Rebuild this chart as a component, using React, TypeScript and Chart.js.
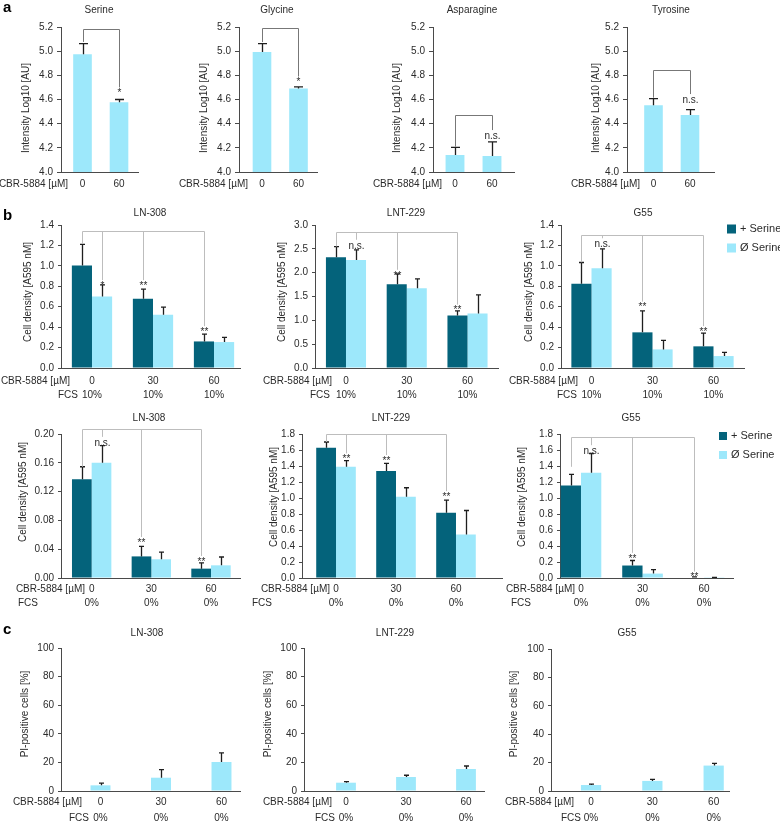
import React, { useEffect, useRef } from "react";
import { Chart, registerables } from "chart.js";

Chart.register(...registerables);

const FONT = "'Liberation Sans', Arial, Helvetica, sans-serif";
Chart.defaults.font.family = FONT;

const DARK = "#04637b";
const LIGHT = "#9de8fb";
const TEXT = "#2b2b2b";
const AXIS = "#4a4a4a";

// ---------- Panel a ----------
const aDoseLabels = ["0", "60"];
const serineMean = [4.974, 4.578];
const serineErr = [0.088, 0.022];
const glycineMean = [4.994, 4.691];
const glycineErr = [0.068, 0.014];
const asparagineMean = [4.14, 4.132];
const asparagineErr = [0.064, 0.118];
const tyrosineMean = [4.553, 4.471];
const tyrosineErr = [0.055, 0.046];

const serineBracketTop = 5.186;
const serineBracketEnds = [5.076, 4.7];
const serineMarks = ["", "*"];
const glycineBracketTop = 5.195;
const glycineBracketEnds = [5.075, 4.79];
const glycineMarks = ["", "*"];
const asparagineBracketTop = 4.468;
const asparagineBracketEnds = [4.21, 4.347];
const asparagineMarks = ["", "n.s."];
const tyrosineBracketTop = 4.848;
const tyrosineBracketEnds = [4.615, 4.645];
const tyrosineMarks = ["", "n.s."];

// ---------- Panel b ----------
const doseLabels = ["0", "30", "60"];
const fcs10Labels = ["10%", "10%", "10%"];
const fcs0Labels = ["0%", "0%", "0%"];
const seriesNames = ["+ Serine", "Ø Serine"];

const ln308Fcs10Plus = [1.003, 0.677, 0.26];
const ln308Fcs10PlusErr = [0.207, 0.095, 0.072];
const ln308Fcs10Minus = [0.7, 0.521, 0.254];
const ln308Fcs10MinusErr = [0.114, 0.075, 0.046];
const ln308Fcs10BracketTop = 1.342;
const ln308Fcs10BracketEnds = [1.215, 0.86, 0.86, 0.41];
const ln308Fcs10Marks = ["", "*", "**", "**"];

const lnt229Fcs10Plus = [2.324, 1.758, 1.103];
const lnt229Fcs10PlusErr = [0.223, 0.217, 0.097];
const lnt229Fcs10Minus = [2.268, 1.675, 1.144];
const lnt229Fcs10MinusErr = [0.209, 0.195, 0.391];
const lnt229Fcs10BracketTop = 2.86;
const lnt229Fcs10BracketEnds = [2.55, 2.69, 2.06, 1.33];
const lnt229Fcs10Marks = ["", "n.s.", "**", "**"];

const g55Fcs10Plus = [0.824, 0.349, 0.212];
const g55Fcs10PlusErr = [0.209, 0.211, 0.13];
const g55Fcs10Minus = [0.977, 0.182, 0.117];
const g55Fcs10MinusErr = [0.189, 0.088, 0.036];
const g55Fcs10BracketTop = 1.303;
const g55Fcs10BracketEnds = [1.035, 1.27, 0.65, 0.41];
const g55Fcs10Marks = ["", "n.s.", "**", "**"];

const ln308Fcs0Plus = [0.137, 0.03, 0.013];
const ln308Fcs0PlusErr = [0.0175, 0.014, 0.008];
const ln308Fcs0Minus = [0.16, 0.026, 0.0176];
const ln308Fcs0MinusErr = [0.0238, 0.01, 0.0116];
const ln308Fcs0BracketTop = 0.2065;
const ln308Fcs0BracketEnds = [0.1545, 0.196, 0.057, 0.0306];
const ln308Fcs0Marks = ["", "n.s.", "**", "**"];

const lnt229Fcs0Plus = [1.629, 1.337, 0.815];
const lnt229Fcs0PlusErr = [0.071, 0.096, 0.158];
const lnt229Fcs0Minus = [1.39, 1.015, 0.543];
const lnt229Fcs0MinusErr = [0.076, 0.113, 0.301];
const lnt229Fcs0BracketTop = 1.796;
const lnt229Fcs0BracketEnds = [1.7, 1.558, 1.537, 1.086];
const lnt229Fcs0Marks = ["", "**", "**", "**"];

const g55Fcs0Plus = [1.157, 0.156, 0.006];
const g55Fcs0PlusErr = [0.138, 0.063, 0.008];
const g55Fcs0Minus = [1.316, 0.055, 0.003];
const g55Fcs0MinusErr = [0.24, 0.05, 0.005];
const g55Fcs0BracketTop = 1.766;
const g55Fcs0BracketEnds = [1.39, 1.66, 0.315, 0.08];
const g55Fcs0Marks = ["", "n.s.", "**", "**"];

// comparisons: [datasetIndex, categoryIndex]
const bTargets = [[0, 0], [1, 0], [0, 1], [0, 2]];
const aTargets = [[0, 0], [0, 1]];

// ---------- Panel c ----------
const ln308Pi = [3.96, 9.3, 20.3];
const ln308PiErr = [1.6, 5.6, 6.3];
const lnt229Pi = [5.8, 9.8, 15.4];
const lnt229PiErr = [0.7, 1.2, 2.1];
const g55Pi = [4.2, 7.1, 17.9];
const g55PiErr = [0.7, 1.1, 1.6];

type Series = { label: string; values: number[]; errors: number[]; color: string };
type Bracket = { top: number; targets: number[][]; ends: number[]; marks: string[] };
type Spec = {
  key: string;
  title: string; titleX: number; titleY: number;
  yTitle: string; yTitleX: number; yTitleY: number;
  plot: number[];
  xMin: number; xMax: number;
  yMin: number; yMax: number; step: number; dec: number;
  series: Series[]; catPct: number;
  doses: string[]; cbrRight: number; rowY: number;
  fcs?: string[]; fcsX?: number; fcsAlign?: CanvasTextAlign; fcsY?: number;
  bracket?: Bracket; bracketColor?: string;
  cap: number; tickLen: number;
  legend?: number[]; legendBox?: number;
  letter?: [string, number, number];
};

const W = 780;
const H = 822;

const aCommon = {
  yTitle: "Intensity Log10 [AU]", yTitleY: 108, titleY: 10,
  yMin: 4.0, yMax: 5.2, step: 0.2, dec: 1, catPct: 0.51,
  doses: aDoseLabels, rowY: 184, cap: 9, tickLen: 4, bracketColor: "#777777",
};
const bTopCommon = {
  yTitle: "Cell density [A595 nM]", yTitleY: 292, titleY: 213, catPct: 0.66,
  doses: doseLabels, rowY: 381, fcs: fcs10Labels, fcsY: 395, fcsAlign: "right" as CanvasTextAlign,
  cap: 5, tickLen: 3, bracketColor: "#bdbdbd",
};
const bBotCommon = {
  yTitle: "Cell density [A595 nM]", titleY: 418, catPct: 0.66,
  doses: doseLabels, rowY: 589, fcs: fcs0Labels, fcsY: 603, fcsAlign: "left" as CanvasTextAlign,
  cap: 5, tickLen: 3, bracketColor: "#bdbdbd",
};
const cCommon = {
  yTitle: "PI-positive cells [%]", yTitleY: 714, titleY: 633, catPct: 0.33,
  yMin: 0, yMax: 100, step: 20, dec: 0,
  doses: doseLabels, rowY: 802, fcs: fcs0Labels, fcsY: 818, fcsAlign: "right" as CanvasTextAlign,
  cap: 5, tickLen: 3,
};

const pair = (p: number[], pe: number[], m: number[], me: number[]): Series[] => [
  { label: seriesNames[0], values: p, errors: pe, color: DARK },
  { label: seriesNames[1], values: m, errors: me, color: LIGHT },
];
const single = (label: string, v: number[], e: number[]): Series[] => [
  { label, values: v, errors: e, color: LIGHT },
];

const specs: Spec[] = [
  { ...aCommon, key: "ser", title: "Serine", titleX: 99, yTitleX: 26, plot: [61, 27, 138, 172], xMin: -0.589, xMax: 1.52,
    series: single("Serine", serineMean, serineErr), cbrRight: 68,
    bracket: { top: serineBracketTop, targets: aTargets, ends: serineBracketEnds, marks: serineMarks },
    letter: ["a", 3, 8] },
  { ...aCommon, key: "gly", title: "Glycine", titleX: 277, yTitleX: 204, plot: [239, 27, 317, 172], xMin: -0.63, xMax: 1.507,
    series: single("Glycine", glycineMean, glycineErr), cbrRight: 248,
    bracket: { top: glycineBracketTop, targets: aTargets, ends: glycineBracketEnds, marks: glycineMarks } },
  { ...aCommon, key: "asn", title: "Asparagine", titleX: 472, yTitleX: 397, plot: [433, 27, 514, 172], xMin: -0.595, xMax: 1.595,
    series: single("Asparagine", asparagineMean, asparagineErr), cbrRight: 442,
    bracket: { top: asparagineBracketTop, targets: aTargets, ends: asparagineBracketEnds, marks: asparagineMarks } },
  { ...aCommon, key: "tyr", title: "Tyrosine", titleX: 671, yTitleX: 596, plot: [627, 27, 714, 172], xMin: -0.726, xMax: 1.658,
    series: single("Tyrosine", tyrosineMean, tyrosineErr), cbrRight: 640,
    bracket: { top: tyrosineBracketTop, targets: aTargets, ends: tyrosineBracketEnds, marks: tyrosineMarks } },

  { ...bTopCommon, key: "b1", title: "LN-308", titleX: 150, yTitleX: 28.5, plot: [61, 225, 240, 368], xMin: -0.508, xMax: 2.426,
    yMin: 0, yMax: 1.4, step: 0.2, dec: 1,
    series: pair(ln308Fcs10Plus, ln308Fcs10PlusErr, ln308Fcs10Minus, ln308Fcs10MinusErr), cbrRight: 70, fcsX: 78,
    bracket: { top: ln308Fcs10BracketTop, targets: bTargets, ends: ln308Fcs10BracketEnds, marks: ln308Fcs10Marks },
    letter: ["b", 3, 216] },
  { ...bTopCommon, key: "b2", title: "LNT-229", titleX: 406, yTitleX: 282, plot: [315, 225, 498, 368], xMin: -0.51, xMax: 2.502,
    yMin: 0, yMax: 3.0, step: 0.5, dec: 1,
    series: pair(lnt229Fcs10Plus, lnt229Fcs10PlusErr, lnt229Fcs10Minus, lnt229Fcs10MinusErr), cbrRight: 332, fcsX: 330,
    bracket: { top: lnt229Fcs10BracketTop, targets: bTargets, ends: lnt229Fcs10BracketEnds, marks: lnt229Fcs10Marks } },
  { ...bTopCommon, key: "b3", title: "G55", titleX: 643, yTitleX: 529, plot: [561, 225, 744, 368], xMin: -0.5, xMax: 2.5,
    yMin: 0, yMax: 1.4, step: 0.2, dec: 1,
    series: pair(g55Fcs10Plus, g55Fcs10PlusErr, g55Fcs10Minus, g55Fcs10MinusErr), cbrRight: 578, fcsX: 577,
    bracket: { top: g55Fcs10BracketTop, targets: bTargets, ends: g55Fcs10BracketEnds, marks: g55Fcs10Marks },
    legend: [727, 229, 248], legendBox: 9 },

  { ...bBotCommon, key: "b4", title: "LN-308", titleX: 149, yTitleX: 23, yTitleY: 492, plot: [61, 434, 240, 578], xMin: -0.514, xMax: 2.486,
    yMin: 0, yMax: 0.2, step: 0.04, dec: 2,
    series: pair(ln308Fcs0Plus, ln308Fcs0PlusErr, ln308Fcs0Minus, ln308Fcs0MinusErr), cbrRight: 85, fcsX: 18,
    bracket: { top: ln308Fcs0BracketTop, targets: bTargets, ends: ln308Fcs0BracketEnds, marks: ln308Fcs0Marks } },
  { ...bBotCommon, key: "b5", title: "LNT-229", titleX: 391, yTitleX: 274, yTitleY: 497, plot: [302, 434, 502, 578], xMin: -0.567, xMax: 2.767,
    yMin: 0, yMax: 1.8, step: 0.2, dec: 1,
    series: pair(lnt229Fcs0Plus, lnt229Fcs0PlusErr, lnt229Fcs0Minus, lnt229Fcs0MinusErr), cbrRight: 330, fcsX: 252,
    bracket: { top: lnt229Fcs0BracketTop, targets: bTargets, ends: lnt229Fcs0BracketEnds, marks: lnt229Fcs0Marks } },
  { ...bBotCommon, key: "b6", title: "G55", titleX: 631, yTitleX: 522, yTitleY: 497, plot: [560, 434, 733, 578], xMin: -0.341, xMax: 2.47,
    yMin: 0, yMax: 1.8, step: 0.2, dec: 1,
    series: pair(g55Fcs0Plus, g55Fcs0PlusErr, g55Fcs0Minus, g55Fcs0MinusErr), cbrRight: 575, fcsX: 511,
    bracket: { top: g55Fcs0BracketTop, targets: bTargets, ends: g55Fcs0BracketEnds, marks: g55Fcs0Marks },
    legend: [719, 436, 455], legendBox: 8 },

  { ...cCommon, key: "c1", title: "LN-308", titleX: 147, yTitleX: 25, plot: [61, 648, 240, 791], xMin: -0.653, xMax: 2.306,
    series: single("PI-positive", ln308Pi, ln308PiErr), cbrRight: 82, fcsX: 89, letter: ["c", 3, 630] },
  { ...cCommon, key: "c2", title: "LNT-229", titleX: 395, yTitleX: 268, plot: [304, 648, 484, 791], xMin: -0.7, xMax: 2.3,
    series: single("PI-positive", lnt229Pi, lnt229PiErr), cbrRight: 332, fcsX: 335 },
  { ...cCommon, key: "c3", title: "G55", titleX: 627, yTitleX: 514, plot: [551, 649, 729, 791], xMin: -0.653, xMax: 2.25,
    series: single("PI-positive", g55Pi, g55PiErr), cbrRight: 574, fcsX: 581 },
];

const Y_WIDTH = 40;

function makePlugin(s: Spec) {
  return {
    id: "annot_" + s.key,
    afterDatasetsDraw(chart: any) {
      const ctx: CanvasRenderingContext2D = chart.ctx;
      const ys = chart.scales.y;
      ctx.save();
      ctx.strokeStyle = "#1e1e1e";
      ctx.lineWidth = 1.3;
      s.series.forEach((ser, di) => {
        const meta = chart.getDatasetMeta(di);
        meta.data.forEach((bar: any, i: number) => {
          const top = ys.getPixelForValue(ser.values[i] + ser.errors[i]);
          const x = Math.round(bar.x) + 0.5;
          ctx.beginPath();
          ctx.moveTo(x, bar.y);
          ctx.lineTo(x, top);
          ctx.moveTo(x - s.cap / 2, top);
          ctx.lineTo(x + s.cap / 2, top);
          ctx.stroke();
        });
      });
      if (s.bracket) {
        const b = s.bracket;
        const yTop = Math.round(ys.getPixelForValue(b.top)) + 0.5;
        const xs = b.targets.map(([d, i]) => Math.round(chart.getDatasetMeta(d).data[i].x) + 0.5);
        ctx.strokeStyle = s.bracketColor || "#999";
        ctx.lineWidth = 1;
        ctx.beginPath();
        ctx.moveTo(Math.min(...xs), yTop);
        ctx.lineTo(Math.max(...xs), yTop);
        xs.forEach((x, k) => {
          ctx.moveTo(x, yTop);
          ctx.lineTo(x, ys.getPixelForValue(b.ends[k]));
        });
        ctx.stroke();
        ctx.fillStyle = TEXT;
        ctx.font = `10px ${FONT}`;
        ctx.textAlign = "center";
        ctx.textBaseline = "top";
        xs.forEach((x, k) => {
          if (b.marks[k]) ctx.fillText(b.marks[k], x, ys.getPixelForValue(b.ends[k]) + 1);
        });
      }
      ctx.restore();
    },
    afterDraw(chart: any) {
      const ctx: CanvasRenderingContext2D = chart.ctx;
      const xs = chart.scales.x;
      ctx.save();
      ctx.fillStyle = TEXT;
      ctx.font = `10px ${FONT}`;
      ctx.textBaseline = "middle";
      ctx.textAlign = "center";
      ctx.fillText(s.title, s.titleX, s.titleY);
      ctx.save();
      ctx.translate(s.yTitleX, s.yTitleY);
      ctx.rotate(-Math.PI / 2);
      ctx.fillText(s.yTitle, 0, 0);
      ctx.restore();
      s.doses.forEach((d, i) => {
        ctx.textAlign = "center";
        ctx.fillText(d, xs.getPixelForValue(i), s.rowY);
      });
      ctx.textAlign = "right";
      ctx.fillText("CBR-5884 [µM]", s.cbrRight, s.rowY);
      if (s.fcs) {
        s.fcs.forEach((f, i) => {
          ctx.textAlign = "center";
          ctx.fillText(f, xs.getPixelForValue(i), s.fcsY!);
        });
        ctx.textAlign = s.fcsAlign || "right";
        ctx.fillText("FCS", s.fcsX!, s.fcsY!);
      }
      if (s.legend) {
        const [lx, ly1, ly2] = s.legend;
        const box = s.legendBox || 9;
        ctx.font = `11px ${FONT}`;
        ctx.textAlign = "left";
        [ly1, ly2].forEach((ly, k) => {
          ctx.fillStyle = chart.data.datasets[k].backgroundColor;
          ctx.fillRect(lx, ly - box / 2, box, box);
          ctx.fillStyle = TEXT;
          ctx.fillText(chart.data.datasets[k].label, lx + box + 4, ly);
        });
      }
      if (s.letter) {
        ctx.font = `bold 15px ${FONT}`;
        ctx.textAlign = "left";
        ctx.fillStyle = "#000";
        ctx.fillText(s.letter[0], s.letter[1], s.letter[2]);
      }
      ctx.restore();
    },
  };
}

function buildConfig(s: Spec): any {
  const [l, t, r, b] = s.plot;
  return {
    type: "bar",
    data: {
      datasets: s.series.map((ser) => ({
        label: ser.label,
        data: ser.values.map((v, i) => ({ x: i, y: v })),
        backgroundColor: ser.color,
        borderWidth: 0,
        categoryPercentage: s.catPct,
        barPercentage: 1,
      })),
    },
    options: {
      responsive: false,
      animation: false,
      events: [],
      devicePixelRatio: 1,
      layout: { padding: { left: l - Y_WIDTH, right: W - r, top: t, bottom: H - b } },
      plugins: { legend: { display: false }, title: { display: false }, tooltip: { enabled: false } },
      scales: {
        x: {
          type: "linear",
          offset: false,
          min: s.xMin,
          max: s.xMax,
          grid: { display: false, offset: false },
          border: { display: true, color: AXIS, width: 1 },
          ticks: { display: false },
          afterBuildTicks: (sc: any) => {
            sc.ticks = [{ value: s.xMin }, { value: s.xMax }];
          },
          afterFit: (sc: any) => {
            sc.height = 0;
          },
        },
        y: {
          type: "linear",
          min: s.yMin,
          max: s.yMax,
          ticks: {
            stepSize: s.step,
            color: TEXT,
            font: { size: 10, family: FONT },
            padding: 4,
            callback: (v: number) => Number(v).toFixed(s.dec),
          },
          grid: { display: true, drawOnChartArea: false, drawTicks: true, tickLength: s.tickLen, color: AXIS, lineWidth: 1 },
          border: { display: true, color: AXIS, width: 1 },
          afterFit: (sc: any) => {
            sc.width = Y_WIDTH;
          },
        },
      },
    },
    plugins: [makePlugin(s)],
  };
}

function Panel({ spec }: { spec: Spec }) {
  const ref = useRef<HTMLCanvasElement>(null);
  useEffect(() => {
    const chart = new Chart(ref.current as HTMLCanvasElement, buildConfig(spec));
    return () => chart.destroy();
  }, [spec]);
  return (
    <canvas
      ref={ref}
      width={W}
      height={H}
      style={{ position: "absolute", left: 0, top: 0, width: W, height: H }}
    />
  );
}

export default function App() {
  return (
    <div style={{ position: "absolute", left: 0, top: 0, width: W, height: H, background: "#ffffff", overflow: "hidden" }}>
      {specs.map((s) => (
        <Panel key={s.key} spec={s} />
      ))}
    </div>
  );
}
